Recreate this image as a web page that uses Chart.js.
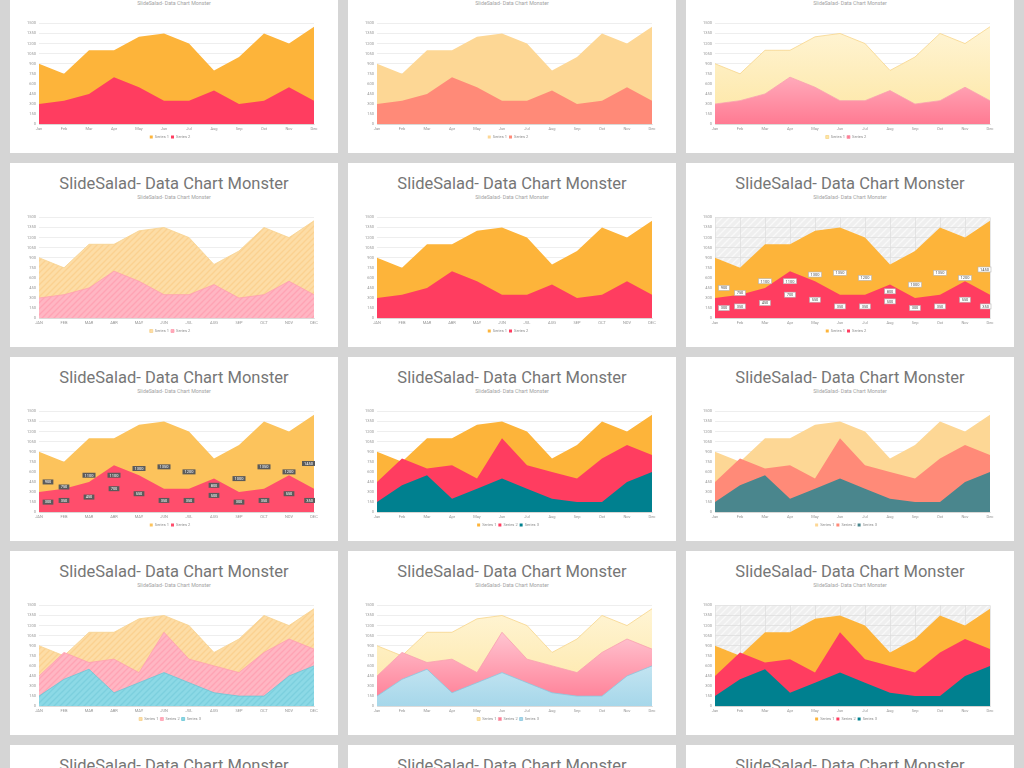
<!DOCTYPE html>
<html>
<head>
<meta charset="utf-8">
<script src="https://cdn.jsdelivr.net/npm/chart.js@4.4.0/dist/chart.umd.min.js"></script>
<style>
html, body { margin: 0; padding: 0; }
body { width: 1024px; height: 768px; overflow: hidden; background: #d5d5d5; position: relative; font-family: Roboto, "Noto Sans", sans-serif; }
.panel { position: absolute; width: 328px; height: 184px; background: #fff; overflow: hidden; }
.title { position: absolute; left: 0; right: 0; top: 10px; height: 22px; line-height: 22px; text-align: center; font-size: 16.5px; color: #767676; white-space: nowrap; }
.sub { position: absolute; left: 0; right: 0; top: 31px; height: 6px; line-height: 6px; text-align: center; font-size: 5.3px; color: #a3a3a3; white-space: nowrap; }
.panel canvas { position: absolute; left: 0; top: 49px; }
</style>
</head>
<body>
<script>
// chart data
const monthsMixed = ['Jan', 'Feb', 'Mar', 'Apr', 'May', 'Jun', 'Jul', 'Aug', 'Sep', 'Oct', 'Nov', 'Dec'];
const monthsUpper = ['JAN', 'FEB', 'MAR', 'ABR', 'MAY', 'JUN', 'JUL', 'AUG', 'SEP', 'OCT', 'NOV', 'DEC'];
const seriesNames = ['Series 1', 'Series 2', 'Series 3'];
const series1 = [900, 750, 1100, 1100, 1300, 1350, 1200, 800, 1000, 1350, 1200, 1450];
const series2 = [300, 350, 450, 700, 550, 350, 350, 500, 300, 350, 550, 350];
const series2b = [450, 800, 650, 700, 500, 1100, 700, 600, 500, 800, 1000, 850];
const series3b = [150, 400, 550, 200, 350, 500, 350, 200, 150, 150, 450, 600];
const yMin = 0, yMax = 1500, yStep = 150;

const titleText = 'SlideSalad- Data Chart Monster';

// fills
function stripes(base, line, size) {
    const c = document.createElement('canvas');
    c.width = c.height = size;
    const g = c.getContext('2d');
    g.fillStyle = base;
    g.fillRect(0, 0, size, size);
    g.strokeStyle = line;
    g.lineWidth = 1.3;
    g.beginPath();
    g.moveTo(0, size); g.lineTo(size, 0);
    g.moveTo(-2, 2); g.lineTo(2, -2);
    g.moveTo(size - 2, size + 2); g.lineTo(size + 2, size - 2);
    g.stroke();
    return g.createPattern(c, 'repeat');
}

function vgrad(top, bottom) {
    return (ctx) => {
        const a = ctx.chart.chartArea;
        if (!a) return bottom;
        const g = ctx.chart.ctx.createLinearGradient(0, a.top, 0, a.bottom);
        g.addColorStop(0, top);
        g.addColorStop(1, bottom);
        return g;
    };
}

// grey hatched plot background
const plotBg = {
    id: 'plotBg',
    beforeDraw(chart, args, opts) {
        if (!opts.on) return;
        const { ctx, chartArea: a } = chart;
        ctx.save();
        ctx.fillStyle = stripes('#efefef', '#f9f9f9', 7);
        ctx.fillRect(a.left, a.top, a.right - a.left, a.bottom - a.top);
        ctx.restore();
    }
};

// value boxes in the middle of each area
const midLabels = {
    id: 'midLabels',
    afterDatasetsDraw(chart, args, opts) {
        if (!opts.style) return;
        const { ctx, chartArea: a, scales: { y } } = chart;
        ctx.save();
        ctx.font = '4px Roboto';
        ctx.textAlign = 'center';
        ctx.textBaseline = 'middle';
        chart.data.datasets.forEach((ds, di) => {
            const meta = chart.getDatasetMeta(di);
            meta.data.forEach((pt, i) => {
                const v = ds.data[i];
                const txt = String(v);
                const w = ctx.measureText(txt).width + 4, h = 5;
                const x = Math.min(Math.max(pt.x + (i === 0 ? 9 : 0), a.left + w / 2 + 1), a.right - w / 2 + 1);
                const yy = y.getPixelForValue(v / 2);
                if (opts.style === 'dark') {
                    ctx.fillStyle = '#5b5b5b';
                    ctx.fillRect(x - w / 2, yy - h / 2, w, h);
                    ctx.fillStyle = '#ffffff';
                } else {
                    ctx.fillStyle = '#ffffff';
                    ctx.fillRect(x - w / 2, yy - h / 2, w, h);
                    ctx.strokeStyle = '#b5b5b5';
                    ctx.lineWidth = 0.6;
                    ctx.strokeRect(x - w / 2, yy - h / 2, w, h);
                    ctx.fillStyle = '#555555';
                }
                ctx.fillText(txt, x, yy + 0.3);
            });
        });
        ctx.restore();
    }
};

Chart.register(plotBg, midLabels);

const solid2 = ['#FDB43A', '#FF3D60'];
const solid3 = ['#FDB43A', '#FF3D60', '#00808F'];
const light3 = ['#FDD795', '#FF8A78', '#4A868D'];

const panels = [
    { row: 0, col: 0, months: monthsMixed, n: 2, fills: solid2 },
    { row: 0, col: 1, months: monthsMixed, n: 2, fills: light3 },
    { row: 0, col: 2, months: monthsMixed, n: 2, fills: [vgrad('#FFF5D6', '#FDE6A3'), vgrad('#FFE0E8', '#FF7A92')], borders: ['#F7D68C', '#F9A0B0'] },
    { row: 1, col: 0, months: monthsUpper, n: 2, fills: [stripes('#FDDDA6', '#FBD190', 6), stripes('#FFB6C3', '#FFA3B4', 6)], borders: ['#F8D391', '#FF9FB1'] },
    { row: 1, col: 1, months: monthsUpper, n: 2, fills: solid2, vgrid: true },
    { row: 1, col: 2, months: monthsMixed, n: 2, fills: solid2, hatch: true, labels: 'light' },
    { row: 2, col: 0, months: monthsUpper, n: 2, fills: ['#FCC35C', '#FF4E6C'], labels: 'dark' },
    { row: 2, col: 1, months: monthsMixed, n: 3, fills: solid3 },
    { row: 2, col: 2, months: monthsMixed, n: 3, fills: light3 },
    { row: 3, col: 0, months: monthsUpper, n: 3, fills: [stripes('#FDDDA6', '#FBD190', 6), stripes('#FFB6C3', '#FFA3B4', 6), stripes('#8CD9E6', '#7CCFDE', 6)], borders: ['#F8D391', '#FF9FB1', '#6CC6D6'] },
    { row: 3, col: 1, months: monthsMixed, n: 3, fills: [vgrad('#FFF5D6', '#FDE6A3'), vgrad('#FFE0E8', '#FF7A92'), vgrad('#EEF8FC', '#A6D7EA')], borders: ['#F7D68C', '#F9A0B0', '#8CC6DE'] },
    { row: 3, col: 2, months: monthsMixed, n: 3, fills: solid3, hatch: true }
];

const colX = [10, 348, 686];
const rowY = [-31, 163, 357, 551, 745];

function makePanel(row, col) {
    const div = document.createElement('div');
    div.className = 'panel';
    div.style.left = colX[col] + 'px';
    div.style.top = rowY[row] + 'px';
    div.innerHTML = `<div class="title">${titleText}</div><div class="sub">${titleText}</div>`;
    document.body.appendChild(div);
    return div;
}

function drawPanel(p) {
    const div = makePanel(p.row, p.col);
    const canvas = document.createElement('canvas');
    canvas.width = 328;
    canvas.height = 133;
    div.appendChild(canvas);

    const values = p.n === 2 ? [series1, series2] : [series1, series2b, series3b];
    const datasets = values.map((vals, i) => ({
        label: seriesNames[i],
        data: vals,
        fill: 'origin',
        backgroundColor: p.fills[i],
        borderColor: p.borders ? p.borders[i] : 'rgba(0,0,0,0)',
        borderWidth: p.borders ? 0.8 : 0,
        pointRadius: 0,
        tension: 0,
        order: values.length - i
    }));

    new Chart(canvas.getContext('2d'), {
        type: 'line',
        data: { labels: p.months, datasets: datasets },
        options: {
            responsive: false,
            animation: false,
            events: [],
            layout: { padding: { left: 16, right: 24, top: 4, bottom: 2 } },
            plugins: {
                legend: {
                    position: 'bottom',
                    reverse: true,
                    labels: { boxWidth: 3, boxHeight: 3, padding: 2, color: '#8a8a8a', font: { size: 4, family: 'Roboto' } }
                },
                tooltip: { enabled: false },
                plotBg: { on: !!p.hatch },
                midLabels: { style: p.labels || null }
            },
            scales: {
                x: {
                    offset: false,
                    z: p.vgrid ? 1 : 0,
                    grid: {
                        display: !!(p.vgrid || p.hatch),
                        color: p.vgrid ? 'rgba(255,255,255,0.45)' : '#dcdcdc',
                        drawTicks: false,
                        lineWidth: 0.7
                    },
                    border: { color: '#d2d2d2', width: 0.7 },
                    ticks: { color: '#959595', font: { size: 4, family: 'Roboto' }, padding: 2, maxRotation: 0, autoSkip: false }
                },
                y: {
                    min: yMin,
                    max: yMax,
                    afterFit: (s) => { s.width = 13; },
                    grid: { color: p.hatch ? '#dcdcdc' : '#e6e6e6', drawTicks: false, lineWidth: 0.7 },
                    border: { display: false },
                    ticks: { stepSize: yStep, color: '#959595', font: { size: 4, family: 'Roboto' }, padding: 3, callback: (v) => String(v) }
                }
            }
        }
    });
}

panels.forEach(drawPanel);
// bottom row, only the titles show inside the window
[0, 1, 2].forEach((c) => makePanel(4, c));
</script>
</body>
</html>
